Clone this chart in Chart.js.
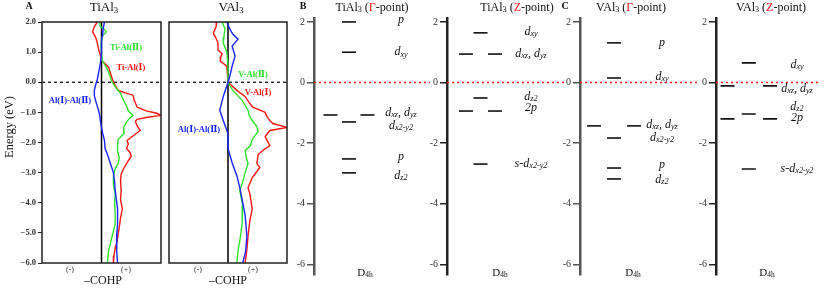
<!DOCTYPE html>
<html>
<head>
<meta charset="utf-8">
<script src="https://cdn.jsdelivr.net/npm/chart.js@4.4.1/dist/chart.umd.min.js"></script>
<style>
body { margin: 0; background: #fff; }
#wrap { position: relative; width: 830px; height: 288px; }
#wrap canvas { position: absolute; left: 0; top: 0; }
</style>
</head>
<body>
<div id="wrap">
  <canvas id="cohpTi" width="830" height="288"></canvas>
  <canvas id="cohpV" width="830" height="288"></canvas>
  <canvas id="tiGamma" width="830" height="288"></canvas>
  <canvas id="tiZ" width="830" height="288"></canvas>
  <canvas id="vGamma" width="830" height="288"></canvas>
  <canvas id="vZ" width="830" height="288"></canvas>
</div>
<script>
// ---- panel A : -COHP curves (energy in eV, -COHP in arbitrary units) ----
const tiRedE = [2.0, 1.85, 1.67, 1.5, 1.3, 1.1, 0.9, 0.73, 0.6, 0.5, 0.3, 0.0, -0.27, -0.35, -0.43, -0.6, -0.83, -0.95, -1.03, -1.1, -1.17, -1.23, -1.3, -1.45, -1.6, -1.75, -1.93, -2.05, -2.2, -2.33, -2.45, -2.6, -2.87, -3.05, -3.27, -3.6, -3.9, -4.2, -4.5, -4.8, -5.03, -5.3, -5.5, -5.75, -6.0]
const tiRedV = [-0.07, -0.12, -0.15, -0.1, -0.07, -0.05, -0.02, 0.0, 0.07, 0.12, 0.15, 0.2, 0.28, 0.4, 0.53, 0.55, 0.6, 0.75, 0.93, 1.0, 0.75, 0.6, 0.57, 0.6, 0.65, 0.55, 0.43, 0.45, 0.42, 0.48, 0.5, 0.45, 0.37, 0.33, 0.32, 0.33, 0.32, 0.35, 0.32, 0.3, 0.28, 0.26, 0.23, 0.21, 0.2]
const tiGreenE = [2.0, 1.85, 1.75, 1.67, 1.55, 1.4, 1.2, 1.0, 0.73, 0.5, 0.33, 0.15, 0.0, -0.2, -0.37, -0.6, -0.83, -0.95, -1.1, -1.2, -1.3, -1.5, -1.7, -1.9, -2.1, -2.3, -2.5, -2.7, -2.87, -3.1, -3.4, -3.7, -4.0, -4.4, -4.7, -5.1, -5.35, -5.57, -6.0]
const tiGreenV = [-0.03, -0.02, 0.05, 0.08, 0.02, 0.0, -0.01, 0.0, 0.01, 0.08, 0.12, 0.15, 0.18, 0.25, 0.32, 0.37, 0.43, 0.45, 0.53, 0.47, 0.43, 0.37, 0.38, 0.28, 0.27, 0.27, 0.3, 0.28, 0.23, 0.2, 0.2, 0.23, 0.22, 0.23, 0.23, 0.18, 0.15, 0.12, 0.1]
const tiBlueE = [2.0, 1.8, 1.6, 1.4, 1.2, 1.0, 0.75, 0.5, 0.3, 0.1, -0.1, -0.27, -0.45, -0.6, -0.8, -0.93, -1.1, -1.27, -1.5, -1.7, -1.93, -2.2, -2.4, -2.7, -3.0, -3.3, -3.6, -3.9, -4.2, -4.5, -4.7, -5.0, -5.3, -5.6, -6.0]
const tiBlueV = [0.05, 0.03, 0.02, 0.0, 0.0, 0.0, -0.01, -0.03, -0.05, -0.07, -0.1, -0.12, -0.12, -0.1, -0.07, -0.05, -0.03, -0.02, 0.0, 0.02, 0.05, 0.06, 0.1, 0.15, 0.2, 0.22, 0.23, 0.25, 0.27, 0.27, 0.27, 0.26, 0.25, 0.26, 0.27]

const vRedE = [2.0, 1.85, 1.63, 1.45, 1.3, 1.07, 0.95, 0.85, 0.7, 0.53, 0.3, 0.0, -0.27, -0.47, -0.65, -0.83, -1.0, -1.13, -1.25, -1.37, -1.5, -1.6, -1.8, -1.93, -2.1, -2.25, -2.4, -2.7, -2.83, -3.17, -3.5, -3.7, -4.2, -4.6, -5.1, -5.57, -6.0]
const vRedV = [-0.19, -0.2, -0.25, -0.2, -0.17, -0.17, -0.1, -0.12, -0.13, -0.02, -0.01, 0.0, 0.15, 0.29, 0.35, 0.42, 0.63, 0.66, 0.7, 0.76, 1.0, 0.71, 0.63, 0.66, 0.71, 0.6, 0.51, 0.49, 0.54, 0.41, 0.34, 0.37, 0.41, 0.37, 0.34, 0.32, 0.29]
const vGreenE = [2.0, 1.77, 1.5, 1.3, 1.0, 0.53, 0.0, -0.27, -0.6, -0.93, -1.1, -1.27, -1.47, -1.63, -1.9, -2.1, -2.27, -2.5, -2.7, -3.0, -3.3, -3.6, -4.1, -4.7, -5.27, -5.6, -6.0]
const vGreenV = [-0.1, -0.05, -0.07, -0.08, -0.02, 0.0, 0.0, 0.08, 0.24, 0.34, 0.36, 0.41, 0.49, 0.51, 0.41, 0.38, 0.29, 0.31, 0.34, 0.29, 0.25, 0.2, 0.25, 0.24, 0.2, 0.17, 0.15]
const vBlueE = [2.0, 1.77, 1.6, 1.43, 1.2, 0.87, 0.53, 0.2, 0.0, -0.47, -0.93, -1.27, -1.7, -1.93, -2.2, -2.67, -3.1, -3.5, -4.0, -4.4, -5.1, -5.6, -6.0]
const vBlueV = [-0.02, 0.03, 0.08, 0.17, 0.07, 0.12, 0.07, 0.03, 0.0, -0.08, -0.14, -0.08, 0.0, 0.0, 0.0, 0.07, 0.15, 0.2, 0.25, 0.29, 0.32, 0.3, 0.25]

const cohpTicks = [2, 1, 0, -1, -2, -3, -4, -5, -6]
const levelTicks = [2, 0, -2, -4, -6]

// ---- panels B, C : energy levels (slot -1 left, 0 centre, 1 right) ----
const tiGammaE = [2.0, 1.0, -1.07, -1.07, -1.3, -2.52, -2.98]
const tiGammaSlot = [0, 0, -1, 1, 0, 0, 0]
const tiGammaText = ['p', 'd_xy', 'd_xz, d_yz', 'd_x2-y2', 'p', 'd_z2']
const tiGammaTextE = [2.07, 1.0, -1.0, -1.43, -2.46, -3.08]

const tiZE = [1.64, 0.94, 0.94, -0.51, -0.94, -0.94, -2.69]
const tiZSlot = [0, -1, 1, 0, -1, 1, 0]
const tiZText = ['d_xy', 'd_xz, d_yz', 'd_z2', '2p', 's-d_x2-y2']
const tiZTextE = [1.67, 0.94, -0.48, -0.84, -2.69]

const vGammaE = [1.31, 0.15, -1.43, -1.43, -1.83, -2.82, -3.18]
const vGammaSlot = [0, 0, -1, 1, 0, 0, 0]
const vGammaText = ['p', 'd_xy', 'd_xz, d_yz', 'd_x2-y2', 'p', 'd_z2']
const vGammaTextE = [1.31, 0.18, -1.4, -1.83, -2.72, -3.21]

const vZE = [0.65, -0.11, -0.11, -1.04, -1.2, -1.2, -2.85]
const vZSlot = [0, -1, 1, 0, -1, 1, 0]
const vZText = ['d_xy', 'd_xz, d_yz', 'd_z2', '2p', 's-d_x2-y2']
const vZTextE = [0.58, -0.21, -0.8, -1.17, -2.85]

const SERIF = "'Liberation Serif', 'DejaVu Serif', 'Noto Sans CJK SC', serif"
const RED = 'rgb(255,20,20)', GREEN = 'rgb(45,225,45)', BLUE = 'rgb(25,35,255)'
Chart.defaults.font.family = SERIF
Chart.defaults.color = '#222'

// text with _sub runs and {red} runs
function richParts(str) {
  const out = []
  const re = /_([A-Za-z0-9\-]+)|\{([^}]*)\}|([^_{]+)/g
  let m
  while ((m = re.exec(str))) {
    if (m[1]) out.push({t: m[1], sub: true})
    else if (m[2] !== undefined) out.push({t: m[2], red: true})
    else out.push({t: m[3]})
  }
  return out
}

function drawRich(ctx, str, x, y, o) {
  const size = o.size || 12
  const pre = (o.italic ? 'italic ' : '') + (o.bold ? 'bold ' : '')
  const parts = richParts(str)
  const fontFor = p => pre + (p.sub ? size * 0.68 : size) + 'px ' + SERIF
  let w = 0
  parts.forEach(p => { ctx.font = fontFor(p); p.w = ctx.measureText(p.t).width; w += p.w })
  let cx = o.align === 'left' ? x : (o.align === 'right' ? x - w : x - w / 2)
  ctx.textBaseline = 'middle'
  ctx.textAlign = 'left'
  parts.forEach(p => {
    ctx.font = fontFor(p)
    ctx.fillStyle = p.red ? RED : (o.color || '#111')
    ctx.fillText(p.t, cx, y + (p.sub ? size * 0.18 : 0))
    cx += p.w
  })
}

// draws the texts of one panel, and the frame of the COHP boxes
function notes(items, box) {
  return {
    id: 'notes',
    afterDraw(chart) {
      const ctx = chart.ctx
      const ys = chart.scales.y
      ctx.save()
      if (box) {
        const a = chart.chartArea
        ctx.strokeStyle = '#222'
        ctx.lineWidth = 1.5
        ctx.strokeRect(a.left, a.top, a.right - a.left, a.bottom - a.top)
      }
      items.forEach(n => {
        const y = n.e !== undefined ? ys.getPixelForValue(n.e) : n.y
        if (n.rotate) {
          ctx.save()
          ctx.translate(n.x, y)
          ctx.rotate(-Math.PI / 2)
          drawRich(ctx, n.text, 0, 0, n)
          ctx.restore()
        } else {
          drawRich(ctx, n.text, n.x, y, n)
        }
      })
      ctx.restore()
    }
  }
}

function curve(e, v, color) {
  return {
    data: e.map((en, i) => ({x: v[i], y: en})),
    borderColor: color, borderWidth: 1.4, pointRadius: 0, showLine: true, tension: 0
  }
}

function cohpChart(id, curves, box, withTicks, items) {
  const datasets = curves.slice()
  datasets.push({data: [{x: 0, y: 2}, {x: 0, y: -6}], borderColor: '#000', borderWidth: 1.5, pointRadius: 0, showLine: true})
  datasets.push({data: [{x: -1, y: 0}, {x: 1, y: 0}], borderColor: '#000', borderWidth: 1.2, borderDash: [3, 3], pointRadius: 0, showLine: true})
  const axisW = withTicks ? box.left : 0
  return new Chart(document.getElementById(id), {
    type: 'scatter',
    data: {datasets: datasets},
    options: {
      responsive: false,
      animation: false,
      layout: {padding: {left: box.left - axisW, right: 830 - box.right, top: box.top, bottom: 288 - box.bottom}},
      plugins: {legend: {display: false}, tooltip: {enabled: false}},
      scales: {
        x: {type: 'linear', min: -1, max: 1, display: false},
        y: {
          type: 'linear', min: -6, max: 2, display: withTicks,
          afterFit: s => { s.width = axisW },
          afterBuildTicks: s => { s.ticks = cohpTicks.map(v => ({value: v})) },
          ticks: {
            callback: v => (v < 0 ? '\u2212' : '') + Math.abs(v).toFixed(1),
            font: {size: 8.5, weight: 'bold'}, color: '#333', padding: 2
          },
          grid: {drawOnChartArea: false, tickLength: 4, color: '#222'},
          border: {display: false}
        }
      }
    },
    plugins: [notes(items, true)]
  })
}

function levelChart(id, p) {
  const levels = p.e.map((en, i) => ({x: p.slot[i], y: en}))
  const items = p.text.map((t, i) => ({text: t, x: p.labelX, e: p.textE[i], size: 12, italic: true}))
  p.extra.forEach(n => items.push(n))
  return new Chart(document.getElementById(id), {
    type: 'scatter',
    data: {
      datasets: [
        {data: [{x: p.xmin, y: 0}, {x: p.xmax, y: 0}], borderColor: RED, borderWidth: 1.5, borderDash: [2, 3], pointRadius: 0, showLine: true},
        {data: levels, pointStyle: 'line', pointRadius: 7, pointBorderWidth: 1.6, pointBorderColor: '#111', showLine: false}
      ]
    },
    options: {
      responsive: false,
      animation: false,
      layout: {padding: {left: p.left - 30, right: 830 - p.right, top: 18, bottom: 13}},
      plugins: {legend: {display: false}, tooltip: {enabled: false}},
      scales: {
        x: {type: 'linear', min: p.xmin, max: p.xmax, display: false},
        y: {
          type: 'linear', min: -6.35, max: 2.13,
          afterFit: s => { s.width = 30 },
          afterBuildTicks: s => { s.ticks = levelTicks.map(v => ({value: v})) },
          ticks: {callback: v => String(v), font: {size: 10}, color: '#333', padding: 2},
          grid: {drawOnChartArea: false, tickLength: 7, color: p.axisColor, lineWidth: 1.5},
          border: {display: true, color: p.axisColor, width: 2.5}
        }
      }
    },
    plugins: [notes(items, false)]
  })
}

cohpChart('cohpTi',
  [curve(tiBlueE, tiBlueV, BLUE), curve(tiGreenE, tiGreenV, GREEN), curve(tiRedE, tiRedV, RED)],
  {left: 42, right: 161, top: 22, bottom: 263}, true,
  [
    {text: 'A', x: 29, y: 6, size: 10, bold: true},
    {text: 'TiAl_3', x: 104, y: 8, size: 13},
    {text: 'Energy (eV)', x: 10, y: 127, size: 12.5, rotate: true},
    {text: 'Ti-Al(Ⅱ)', x: 126, y: 48, size: 8.5, bold: true, color: GREEN},
    {text: 'Ti-Al(Ⅰ)', x: 131, y: 68, size: 8.5, bold: true, color: RED},
    {text: 'Al(Ⅰ)-Al(Ⅱ)', x: 70, y: 101, size: 8.5, bold: true, color: BLUE},
    {text: '(-)', x: 70, y: 270, size: 8, color: '#333'},
    {text: '(+)', x: 126, y: 270, size: 8, color: '#333'},
    {text: '\u2013COHP', x: 103, y: 281, size: 12}
  ])

cohpChart('cohpV',
  [curve(vBlueE, vBlueV, BLUE), curve(vGreenE, vGreenV, GREEN), curve(vRedE, vRedV, RED)],
  {left: 169, right: 287, top: 22, bottom: 263}, false,
  [
    {text: 'VAl_3', x: 231, y: 8, size: 13},
    {text: 'V-Al(Ⅱ)', x: 253, y: 75, size: 8.5, bold: true, color: GREEN},
    {text: 'V-Al(Ⅰ)', x: 258, y: 93, size: 8.5, bold: true, color: RED},
    {text: 'Al(Ⅰ)-Al(Ⅱ)', x: 199, y: 130, size: 8.5, bold: true, color: BLUE},
    {text: '(-)', x: 198, y: 270, size: 8, color: '#333'},
    {text: '(+)', x: 253, y: 270, size: 8, color: '#333'},
    {text: '\u2013COHP', x: 228, y: 281, size: 12}
  ])

levelChart('tiGamma', {
  e: tiGammaE, slot: tiGammaSlot, text: tiGammaText, textE: tiGammaTextE,
  left: 314, right: 430, xmin: -1.89, xmax: 4.38, labelX: 401, axisColor: '#555',
  extra: [
    {text: 'B', x: 303, y: 6, size: 10, bold: true},
    {text: 'TiAl_3 ({Γ}-point)', x: 372, y: 8, size: 12},
    {text: 'D_4h', x: 365, y: 273, size: 11}
  ]
})

levelChart('tiZ', {
  e: tiZE, slot: tiZSlot, text: tiZText, textE: tiZTextE,
  left: 447, right: 567, xmin: -2.31, xmax: 5.97, labelX: 531, axisColor: '#222',
  extra: [
    {text: 'TiAl_3 ({Z}-point)', x: 517, y: 8, size: 12},
    {text: 'D_4h', x: 500, y: 273, size: 11}
  ]
})

levelChart('vGamma', {
  e: vGammaE, slot: vGammaSlot, text: vGammaText, textE: vGammaTextE,
  left: 580, right: 700, xmin: -1.7, xmax: 4.3, labelX: 662, axisColor: '#555',
  extra: [
    {text: 'C', x: 565, y: 6, size: 10, bold: true},
    {text: 'VAl_3 ({Γ}-point)', x: 631, y: 8, size: 12},
    {text: 'D_4h', x: 633, y: 273, size: 11}
  ]
})

levelChart('vZ', {
  e: vZE, slot: vZSlot, text: vZText, textE: vZTextE,
  left: 716, right: 830, xmin: -1.54, xmax: 3.41, labelX: 797, axisColor: '#222',
  extra: [
    {text: 'VAl_3 ({Z}-point)', x: 771, y: 8, size: 12},
    {text: 'D_4h', x: 767, y: 273, size: 11}
  ]
})
</script>
</body>
</html>
